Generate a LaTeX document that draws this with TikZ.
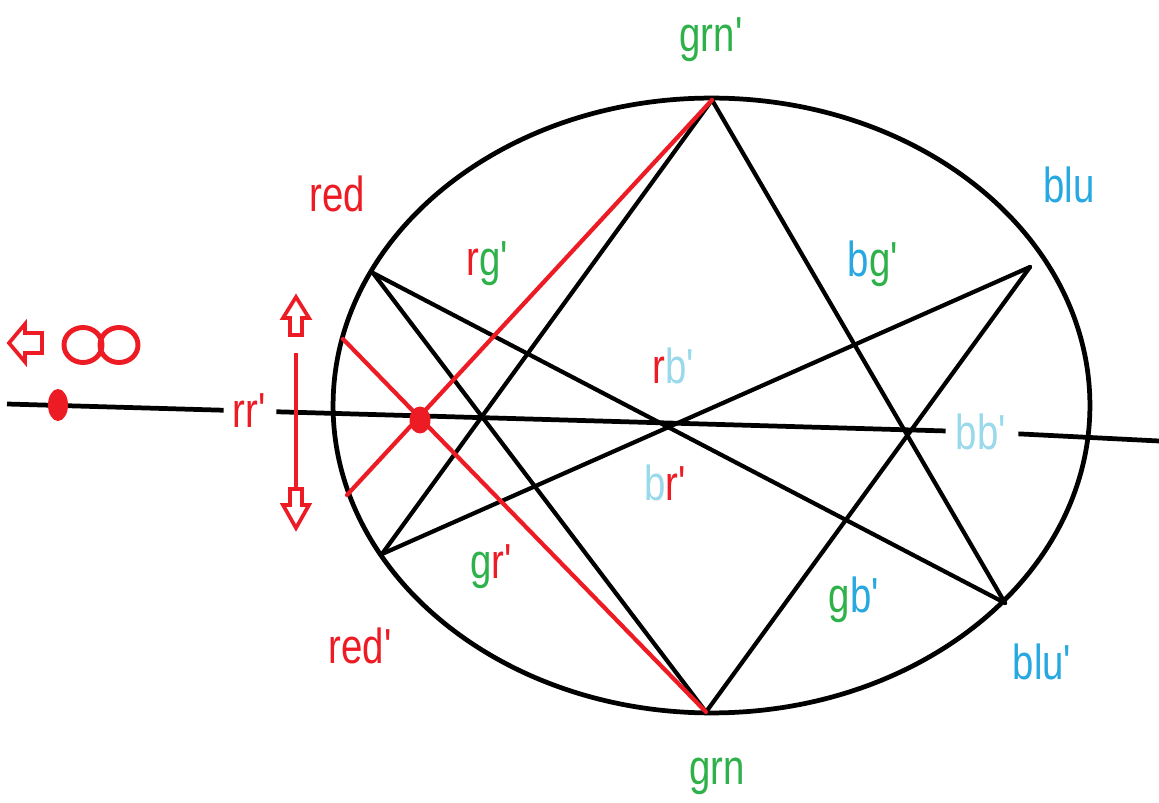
\documentclass[tikz,border=0pt]{standalone}
\usepackage{fontspec}
\setmainfont{Liberation Sans}[FakeStretch=0.78]
\usetikzlibrary{shapes.geometric}
\definecolor{pred}{RGB}{237,28,36}
\definecolor{pgreen}{RGB}{46,177,73}
\definecolor{pblue}{RGB}{40,168,224}
\definecolor{plblue}{RGB}{153,217,234}
\newcommand{\pq}{\textquotesingle}
\begin{document}
\begin{tikzpicture}[x=0.02cm,y=-0.02cm,
  lbl/.style={font=\fontsize{28}{30}\selectfont, inner sep=0pt},
  blk/.style={line width=2.4pt, black, line cap=round},
  rln/.style={line width=2.4pt, pred, line cap=round},
  hln/.style={line width=2.7pt, black},
  ohead/.style={line width=2.1pt, pred, line join=miter},
  dotn/.style={fill=pred, ellipse, inner sep=0pt, draw=none}]
\useasboundingbox (0,0) rectangle (1159,803);

% ellipse
\node[draw, ellipse, line width=2.7pt, minimum width=15.14cm, minimum height=12.3cm, inner sep=0pt] (E) at (711.5,405.5) {};

% points
\coordinate (Gp) at (712,100);
\coordinate (G) at (706,712);
\coordinate (R) at (373,273);
\coordinate (Rp) at (382,554);
\coordinate (B) at (1030,267);
\coordinate (Bp) at (1005,603);
\coordinate (P1) at (343,339);
\coordinate (P2) at (347,495);
\coordinate (H0) at (7,404);
\coordinate (H1) at (1159,441);

% black lines
\draw[blk] (Gp) -- (Rp);
\draw[blk] (Gp) -- (Bp);
\draw[blk] (G) -- (R);
\draw[blk] (G) -- (B);
\draw[blk] (R) -- (Bp);
\draw[blk] (Rp) -- (B);

% red lines
\draw[rln] (Gp) -- (P2);
\draw[rln] (P1) -- (G);

% axis line labels
\node[lbl, text=pred, inner xsep=0.17cm] (rr) at (250,411) {rr\pq};
\node[lbl, text=plblue, inner xsep=0.2cm] (bb) at (982,432) {bb\pq};
\draw[hln] (H0) -- (rr) -- (bb) -- (H1);

% dots
\node[dotn, minimum width=0.4cm, minimum height=0.64cm] (d1) at (58,405) {};
\node[dotn, minimum width=0.42cm, minimum height=0.54cm] (d2) at (420,420) {};

% labels
\node[lbl, text=pgreen] (lgp) at (712,40) {grn\pq};
\node[lbl, text=pgreen] (lg) at (717,776) {grn};
\node[lbl, text=pred] (lr) at (337,194) {red};
\node[lbl, text=pred] (lrp) at (361,646) {red\pq};
\node[lbl, text=pblue] (lb) at (1069,185) {blu};
\node[lbl, text=pblue] (lbp) at (1043,662) {blu\pq};
\node[lbl] (rg) at (488,264) {\textcolor{pred}{r}\textcolor{pgreen}{g\pq}};
\node[lbl] (bg) at (874,264) {\textcolor{pblue}{b}\textcolor{pgreen}{g\pq}};
\node[lbl] (rb) at (674,366) {\textcolor{pred}{r}\textcolor{plblue}{b\pq}};
\node[lbl] (br) at (666,483) {\textcolor{plblue}{b}\textcolor{pred}{r\pq}};
\node[lbl] (gr) at (492,567) {\textcolor{pgreen}{g}\textcolor{pred}{r\pq}};
\node[lbl] (gb) at (855,600) {\textcolor{pgreen}{g}\textcolor{pblue}{b\pq}};

% vertical double arrow
\draw[ohead] (296,297) -- (309,318) -- (302,318) -- (302,335) -- (290,335) -- (290,318) -- (283,318) -- cycle;
\coordinate (V0) at (296,353);
\coordinate (V1) at (296,489);
\draw[rln, line cap=butt] (V0) -- (V1);
\draw[ohead] (296,528) -- (309,505) -- (302,505) -- (302,489) -- (290,489) -- (290,505) -- (283,505) -- cycle;

% left arrow and infinity
\draw[ohead] (9,343) -- (25,324) -- (25,333) -- (42,333) -- (42,353) -- (25,353) -- (25,362) -- cycle;
\draw[pred, line width=2.8pt] (83,345) ellipse [x radius=0.38cm, y radius=0.35cm];
\draw[pred, line width=2.8pt] (119,345) ellipse [x radius=0.38cm, y radius=0.35cm];
\end{tikzpicture}
\end{document}
